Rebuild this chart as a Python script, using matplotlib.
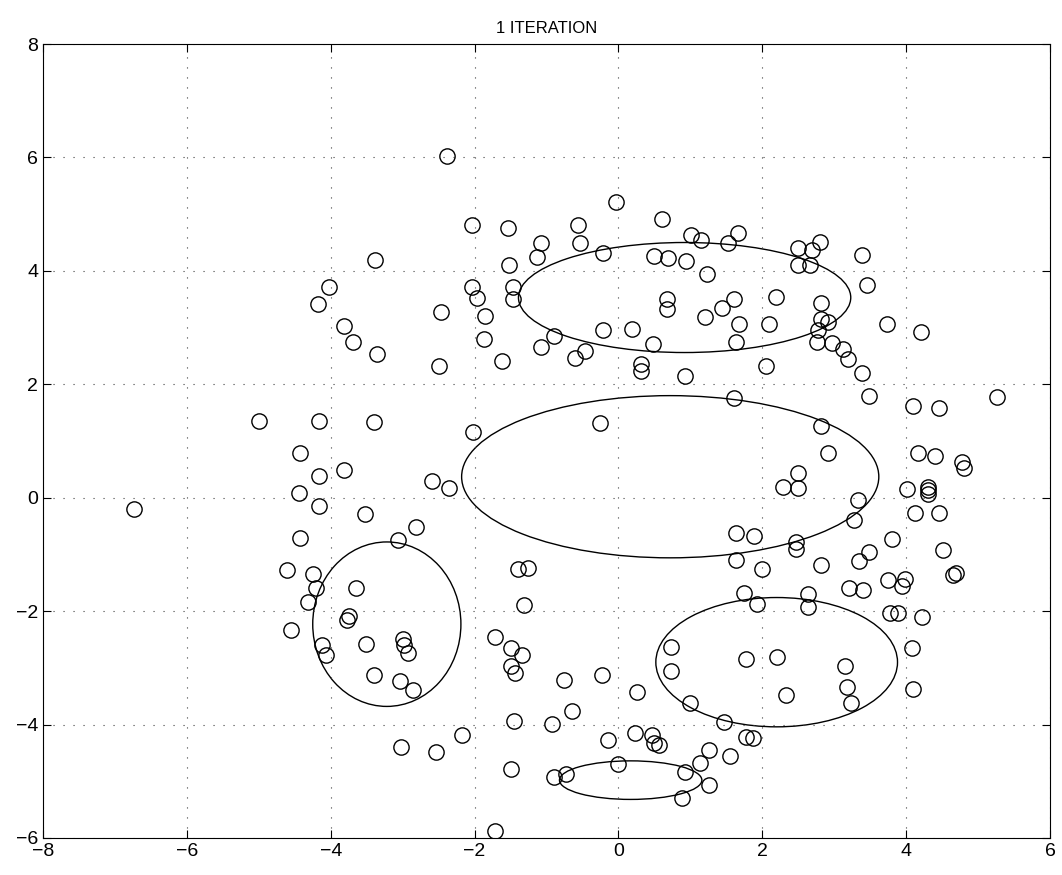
import matplotlib
matplotlib.use("Agg")
import matplotlib.pyplot as plt
from matplotlib.patches import Ellipse

plt.rcParams['font.family'] = ['Liberation Sans', 'DejaVu Sans']

# data points
xs = [
    -2.38, -0.03, -2.03, -1.54, -0.56, -0.53, -1.07, -1.13, -1.52, -0.21,
    0.60, 1.01, 1.15, 1.52, 1.66, 0.50, 0.69, 0.94, 1.23, 2.19,
    0.68, 0.68, 1.61, 1.44, 2.50, 2.50, 2.80, 2.69, 2.66, 3.38,
    3.45, 2.81, -3.38, -4.02, -4.18, -2.04, -1.97, -1.46, -1.47, -2.47,
    -3.82, -3.69, -3.35, -2.49, -1.85, -1.87, -1.62, -1.08, 1.21, 1.67,
    2.09, -0.90, -0.22, 0.19, 0.48, -0.46, -0.61, 0.32, 0.32, 0.92,
    1.63, 2.05, 2.81, 2.91, 2.77, 2.76, 2.97, 3.12, 3.19, 3.38,
    3.74, 4.21,
    1.60, -0.25, -5.00, -6.74, -4.16, -3.40, -2.02, -4.43, -3.82, -4.16,
    -4.44, -4.16, -2.59, -2.35, -3.53, -2.82, -3.06, -4.43, -4.61, -4.25,
    -1.39, -1.26, 2.50, 2.29, 2.50, 1.63, 1.89, 1.63, 2.00, 2.47,
    2.47, 3.49, 4.09, 4.46, 5.26, 2.81, 2.92, 4.17, 4.40, 4.78,
    4.80, 4.01, 4.31, 4.31, 4.31, 3.33, 3.27, 4.13, 4.45, 3.81,
    3.48, 3.35, 2.82, 4.51, 4.65, 4.69,
    3.21, 3.40, 3.75, 3.99, 3.94, 2.64, 2.63, 3.78, 3.89, 4.22,
    4.08, 3.15, 3.18, 3.24, 4.10, 1.75, 1.92, 0.73, 0.73, 1.77,
    2.20, 2.33, 1.00, 1.47, -0.76, -0.23, 0.26, -0.65, -0.92, 0.23,
    -0.15, 0.47, 0.49, 0.57, 1.26, 1.55, 1.14, 0.00, 0.93, 1.26,
    0.89, -0.90, -0.73, 1.78, 1.87, -4.20, -4.32, -3.65, -4.55, -3.75,
    -3.78, -4.12, -4.06, -3.51, -3.00, -2.98, -2.93, -3.40, -3.03, -2.86,
    -3.02, -2.53, -2.18, -1.72, -1.50, -1.34, -1.50, -1.44, -1.31, -1.45,
    -1.50, -1.71,
]
ys = [
    6.03, 5.21, 4.81, 4.76, 4.81, 4.50, 4.49, 4.24, 4.10, 4.32,
    4.91, 4.64, 4.54, 4.50, 4.67, 4.26, 4.22, 4.17, 3.94, 3.54,
    3.50, 3.32, 3.50, 3.34, 4.41, 4.11, 4.51, 4.36, 4.11, 4.28,
    3.75, 3.43, 4.19, 3.72, 3.42, 3.72, 3.53, 3.71, 3.50, 3.28,
    3.02, 2.75, 2.53, 2.33, 3.20, 2.80, 2.41, 2.66, 3.19, 3.06,
    3.06, 2.85, 2.96, 2.97, 2.71, 2.59, 2.47, 2.36, 2.23, 2.15,
    2.75, 2.32, 3.16, 3.09, 2.95, 2.75, 2.72, 2.62, 2.45, 2.20,
    3.07, 2.92,
    1.76, 1.31, 1.36, -0.20, 1.36, 1.33, 1.16, 0.79, 0.49, 0.39,
    0.08, -0.14, 0.30, 0.18, -0.28, -0.51, -0.75, -0.71, -1.28, -1.35,
    -1.25, -1.24, 0.44, 0.19, 0.18, -0.63, -0.67, -1.10, -1.25, -0.78,
    -0.90, 1.79, 1.62, 1.58, 1.78, 1.26, 0.78, 0.79, 0.74, 0.63,
    0.52, 0.16, 0.19, 0.13, 0.07, -0.04, -0.39, -0.27, -0.27, -0.72,
    -0.96, -1.11, -1.18, -0.93, -1.37, -1.33,
    -1.60, -1.62, -1.45, -1.43, -1.56, -1.70, -1.93, -2.03, -2.03, -2.10,
    -2.65, -2.97, -3.34, -3.62, -3.37, -1.68, -1.87, -2.64, -3.05, -2.85,
    -2.81, -3.47, -3.62, -3.95, -3.22, -3.13, -3.43, -3.76, -3.99, -4.14,
    -4.28, -4.19, -4.32, -4.36, -4.44, -4.55, -4.68, -4.70, -4.84, -5.06,
    -5.29, -4.92, -4.87, -4.22, -4.24, -1.60, -1.84, -1.59, -2.33, -2.09,
    -2.15, -2.60, -2.78, -2.58, -2.50, -2.59, -2.74, -3.12, -3.23, -3.39,
    -4.40, -4.48, -4.19, -2.46, -2.65, -2.77, -2.97, -3.09, -1.90, -3.93,
    -4.79, -5.88,
]

# fitted components: centre x, centre y, semi-axis x, semi-axis y
ell_cx = [0.92, 0.72, -3.22, 2.20, 0.17]
ell_cy = [3.53, 0.37, -2.23, -2.90, -4.98]
ell_ax = [2.31, 2.90, 1.03, 1.68, 0.99]
ell_ay = [0.97, 1.43, 1.45, 1.14, 0.34]

fig = plt.figure(figsize=(10.62, 8.75), dpi=100)
ax = fig.add_axes([0.0405, 0.0423, 0.9482, 0.9074])

ax.plot(xs, ys, 'o', mfc='none', mec='k', ms=11, mew=1.0, ls='none')

for cx, cy, a, b in zip(ell_cx, ell_cy, ell_ax, ell_ay):
    ax.add_patch(Ellipse((cx, cy), 2 * a, 2 * b, fill=False, ec='k', lw=1.0))

ax.set_xlim(-8, 6)
ax.set_ylim(-6, 8)
ax.set_xticks(range(-8, 7, 2))
ax.set_yticks(range(-6, 9, 2))
ax.grid(True, color='0.25', ls=(0, (1, 8)), lw=0.8)
ax.tick_params(direction='in', top=True, right=True, length=6, width=0.8,
               labelsize=14)
for s in ax.spines.values():
    s.set_linewidth(0.8)

ax.set_title('1 ITERATION', fontsize=12, pad=8)

fig.savefig('out.png', dpi=100)
